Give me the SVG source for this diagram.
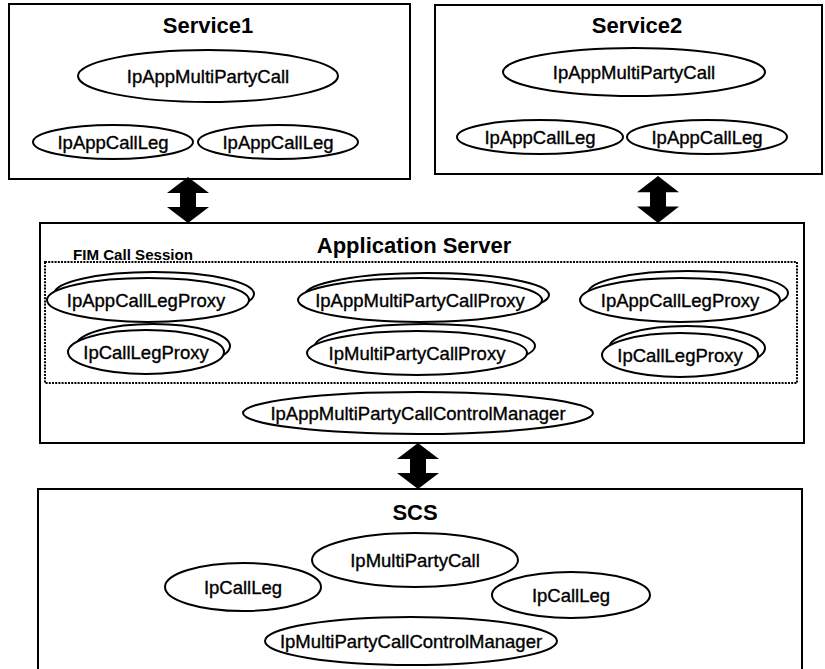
<svg xmlns="http://www.w3.org/2000/svg" xmlns:xlink="http://www.w3.org/1999/xlink" width="825" height="669" viewBox="0 0 825 669">
  <style>
    .box { fill: #fff; stroke: #000; stroke-width: 2; }
    .session { fill: none; stroke: #000; stroke-width: 2; stroke-dasharray: 2 1.2; }
    .obj { fill: #fff; stroke: #000; stroke-width: 2; }
    .title { font-family: "Liberation Sans", Arial, sans-serif; font-weight: bold; font-size: 22px; text-anchor: middle; fill: #000; }
    .label { font-family: "Liberation Sans", Arial, sans-serif; font-size: 18.5px; text-anchor: middle; fill: #000; stroke: #000; stroke-width: 0.35; }
    .small { font-family: "Liberation Sans", Arial, sans-serif; font-weight: bold; font-size: 15px; fill: #000; }
    .arrow { fill: #000; }
  </style>
  <defs>
    <!-- vertical two-headed block arrow, 46px tall, origin at top tip -->
    <path id="dblArrow" class="arrow" d="M0,0 L21,16 L8,16 L8,30 L21,30 L0,46 L-21,30 L-8,30 L-8,16 L-21,16 Z"/>
  </defs>
  <rect width="825" height="669" fill="#fff"/>

  <!-- Service1 -->
  <g id="service1">
    <rect class="box" x="9" y="4" width="401" height="175"/>
    <text class="title" x="208" y="33">Service1</text>
    <ellipse class="obj" cx="208" cy="76" rx="130" ry="26"/>
    <text class="label" x="208" y="82.5">IpAppMultiPartyCall</text>
    <ellipse class="obj" cx="113" cy="142" rx="80" ry="17"/>
    <text class="label" x="113" y="148.5">IpAppCallLeg</text>
    <ellipse class="obj" cx="278" cy="142" rx="80" ry="17"/>
    <text class="label" x="278" y="148.5">IpAppCallLeg</text>
  </g>

  <!-- Service2 -->
  <g id="service2">
    <rect class="box" x="435" y="5" width="387" height="169"/>
    <text class="title" x="637" y="33">Service2</text>
    <ellipse class="obj" cx="634" cy="72" rx="131" ry="24"/>
    <text class="label" x="634" y="78.5">IpAppMultiPartyCall</text>
    <ellipse class="obj" cx="540" cy="137" rx="83" ry="17"/>
    <text class="label" x="540" y="143.5">IpAppCallLeg</text>
    <ellipse class="obj" cx="707" cy="137" rx="80" ry="17"/>
    <text class="label" x="707" y="143.5">IpAppCallLeg</text>
  </g>

  <!-- Application Server -->
  <g id="appServer">
    <rect class="box" x="40" y="223" width="764" height="220"/>
    <text class="title" x="414" y="253">Application Server</text>
  </g>

  <!-- FIM Call Session -->
  <g id="fimSession">
    <rect class="session" x="45" y="262" width="752" height="121"/>
    <text class="small" x="73" y="260" textLength="120" lengthAdjust="spacingAndGlyphs">FIM Call Session</text>
  </g>

  <g id="appCallLegProxy1">
    <ellipse class="obj" cx="154" cy="294" rx="100" ry="22"/>
    <ellipse class="obj" cx="148" cy="300" rx="101" ry="22"/>
    <text class="label" x="146" y="306.5">IpAppCallLegProxy</text>
  </g>
  <g id="callLegProxy1">
    <ellipse class="obj" cx="153" cy="346" rx="77" ry="22"/>
    <ellipse class="obj" cx="146" cy="352" rx="78" ry="22"/>
    <text class="label" x="146" y="358.5">IpCallLegProxy</text>
  </g>
  <g id="appMultiPartyCallProxy">
    <ellipse class="obj" cx="427" cy="295" rx="122" ry="22"/>
    <ellipse class="obj" cx="420" cy="300" rx="122" ry="22"/>
    <text class="label" x="420" y="306.5">IpAppMultiPartyCallProxy</text>
  </g>
  <g id="multiPartyCallProxy">
    <ellipse class="obj" cx="425" cy="346" rx="110" ry="22"/>
    <ellipse class="obj" cx="417" cy="353" rx="110" ry="22"/>
    <text class="label" x="417" y="359.5">IpMultiPartyCallProxy</text>
  </g>
  <g id="appCallLegProxy2">
    <ellipse class="obj" cx="688" cy="293" rx="100" ry="22"/>
    <ellipse class="obj" cx="680" cy="300" rx="100" ry="22"/>
    <text class="label" x="680" y="306.5">IpAppCallLegProxy</text>
  </g>
  <g id="callLegProxy2">
    <ellipse class="obj" cx="687" cy="348" rx="78" ry="22"/>
    <ellipse class="obj" cx="680" cy="355" rx="78" ry="22"/>
    <text class="label" x="680" y="361.5">IpCallLegProxy</text>
  </g>
  <g id="appMPCCManager">
    <ellipse class="obj" cx="418" cy="413" rx="175" ry="21"/>
    <text class="label" x="418" y="419.5">IpAppMultiPartyCallControlManager</text>
  </g>

  <!-- SCS -->
  <g id="scs">
    <rect class="box" x="38" y="489" width="764" height="200"/>
    <text class="title" x="415" y="520">SCS</text>
    <ellipse class="obj" cx="415" cy="560" rx="103" ry="27"/>
    <text class="label" x="415" y="566.5">IpMultiPartyCall</text>
    <ellipse class="obj" cx="243" cy="587" rx="78" ry="24"/>
    <text class="label" x="243" y="593.5">IpCallLeg</text>
    <ellipse class="obj" cx="571" cy="595" rx="79" ry="23"/>
    <text class="label" x="571" y="601.5">IpCallLeg</text>
    <ellipse class="obj" cx="411" cy="641" rx="146" ry="24"/>
    <text class="label" x="411" y="647.5">IpMultiPartyCallControlManager</text>
  </g>

  <!-- connectors -->
  <g id="connectors">
    <use xlink:href="#dblArrow" transform="translate(188,177)"/>
    <use xlink:href="#dblArrow" transform="translate(658,176) scale(1,1.02)"/>
    <use xlink:href="#dblArrow" transform="translate(418,443)"/>
  </g>
</svg>
